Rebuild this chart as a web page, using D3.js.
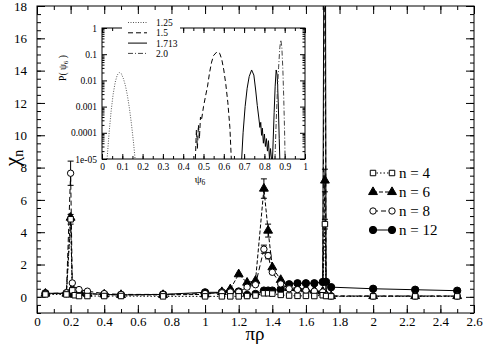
<!DOCTYPE html>
<html>
<head>
<meta charset="utf-8">
<script src="https://cdn.jsdelivr.net/npm/d3@7"></script>
<style>
  body { margin: 0; background: #fff; }
  svg { font-family: "Liberation Serif", "Times New Roman", serif; }
</style>
</head>
<body>
<svg width="485" height="344"></svg>
<script>
// main panel: chi_n vs pi*rho
var rho = [0.05, 0.175, 0.2, 0.21, 0.225, 0.25, 0.3, 0.4, 0.5, 0.75, 1.0, 1.1, 1.15, 1.2, 1.25, 1.3,
  1.35, 1.375, 1.4, 1.45, 1.5, 1.55, 1.6, 1.65, 1.7, 1.713, 1.72, 1.75, 2.0, 2.25, 2.5];
var chi4 = [0.15, 0.15, 4.8, 0.4, 0.1, 0.05, 0.05, 0.05, 0.05, 0.03, 0.03, 0.03, 0.03, 0.03, 0.05, 0.08,
  0.22, 0.22, 0.2, 0.12, 0.08, 0.06, 0.06, 0.05, 0.1, 4.5, 0.05, 0.03, 0.03, 0.03, 0.03];
var chi6 = [0.2, 0.2, 4.9, 0.5, 0.2, 0.25, 0.2, 0.15, 0.12, 0.12, 0.15, 0.3, 0.47, 1.4, 0.88, 1.0,
  6.7, 4.1, 1.83, 1.05, 0.55, 0.54, 0.47, 0.39, 0.33, 7.2, 0.12, 0.05, 0.05, 0.05, 0.05];
var chi8 = [0.2, 0.25, 7.65, 0.86, 0.4, 0.45, 0.35, 0.2, 0.15, 0.15, 0.2, 0.25, 0.3, 0.3, 0.6, 0.75,
  2.95, 2.55, 1.52, 0.8, 0.5, 0.45, 0.4, 0.35, 0.3, 25, 0.1, 0.05, 0.05, 0.05, 0.05];
var chi12 = [0.22, 0.22, 0.2, 0.2, 0.25, 0.25, 0.2, 0.15, 0.12, 0.15, 0.28, 0.28, 0.35, 0.33, 0.12, 0.18,
  0.39, 0.39, 0.39, 0.47, 0.78, 0.84, 0.84, 0.84, 0.92, 40, 0.93, 0.6, 0.5, 0.44, 0.38];
// error bars (0 = none drawn)
var err4 = [0, 0, 0.3, 0, 0, 0, 0, 0, 0, 0, 0, 0, 0, 0, 0, 0, 0, 0, 0, 0, 0, 0, 0, 0, 0, 0.3, 0, 0, 0, 0, 0];
var err6 = [0, 0, 0, 0, 0, 0, 0, 0, 0, 0, 0, 0, 0, 0, 0, 0, 0.6, 0.4, 0, 0, 0, 0, 0, 0, 0, 0.7, 0, 0, 0, 0, 0];
var err8 = [0, 0, 0.75, 0, 0, 0, 0, 0, 0, 0, 0, 0, 0, 0, 0, 0, 0.25, 0.2, 0, 0, 0, 0, 0, 0, 0, 0, 0, 0, 0, 0, 0];
var seriesNames = ["n = 4", "n = 6", "n = 8", "n = 12"];
var xTicks = [0, 0.2, 0.4, 0.6, 0.8, 1, 1.2, 1.4, 1.6, 1.8, 2, 2.2, 2.4, 2.6];
var yTicks = [0, 2, 4, 6, 8, 10, 12, 14, 16, 18];

// inset: P(psi6) for several pi*rho
var insetNames = ["1.25", "1.5", "1.713", "2.0"];
var psi125 = [0.025, 0.035, 0.045, 0.055, 0.065, 0.075, 0.085, 0.095, 0.105, 0.115, 0.125, 0.135, 0.145, 0.155, 0.163];
var p125 = [1e-5, 1e-4, 6.8e-4, 3e-3, 8.5e-3, 0.016, 0.02, 0.018, 0.012, 6.5e-3, 2.7e-3, 8.7e-4, 2.2e-4, 4.4e-5, 1e-5];
var psi15 = [0.46, 0.465, 0.47, 0.475, 0.48, 0.485, 0.49, 0.5, 0.51, 0.52, 0.53, 0.54, 0.55, 0.567, 0.58, 0.59, 0.6, 0.61, 0.62, 0.63, 0.637];
var p15 = [1e-5, 1.3e-4, 2.5e-5, 2e-4, 6e-5, 4e-4, 3e-4, 1e-3, 2.5e-3, 6e-3, 0.02, 0.05, 0.09, 0.125, 0.107, 0.063, 0.025, 7e-3, 1.4e-3, 1.6e-4, 1e-5];
var psi1713 = [0.688, 0.695, 0.705, 0.715, 0.725, 0.737, 0.748, 0.757, 0.765, 0.772, 0.778, 0.782, 0.786, 0.79, 0.795, 0.8,
  0.805, 0.81, 0.815, 0.82, 0.825, 0.83, 0.835, 0.84, 0.848, 0.853, 0.858, 0.863, 0.868, 0.873, 0.876];
var p1713 = [1e-5, 1e-4, 1e-3, 5e-3, 0.014, 0.025, 0.016, 4.3e-3, 1.1e-3, 4e-4, 1.6e-4, 2.5e-4, 8e-5, 1.5e-4, 4e-5, 9e-5,
  3e-5, 6e-5, 2e-5, 5e-5, 1e-5, 2.5e-5, 1e-5, 1e-5, 6e-4, 6e-3, 0.025, 0.016, 1.6e-3, 6e-5, 1e-5];
var psi20 = [0.852, 0.858, 0.864, 0.87, 0.876, 0.881, 0.886, 0.891, 0.895, 0.899, 0.902];
var p20 = [1e-5, 2.5e-4, 4e-3, 0.032, 0.18, 0.35, 0.18, 0.025, 2.5e-3, 1.6e-4, 1e-5];
var insetXTicks = [0, 0.1, 0.2, 0.3, 0.4, 0.5, 0.6, 0.7, 0.8, 0.9, 1];
var insetYTicks = [1e-5, 1e-4, 1e-3, 1e-2, 1e-1, 1];
var insetYLabels = ["1e-05", "0.0001", "0.001", "0.01", "0.1", "1"];

var svg = d3.select("svg");
var x = d3.scaleLinear().domain([0, 2.6]).range([37, 474]);
var y = d3.scaleLinear().domain([-1, 18]).range([313, 6]);

svg.append("clipPath").attr("id", "clipMain")
  .append("rect").attr("x", 37).attr("y", 6).attr("width", 437).attr("height", 307);

// axes with inward ticks on all four sides
function minorRange(a, b, s) { var r = []; for (var v = a; v <= b + 1e-9; v += s) r.push(+v.toFixed(4)); return r; }
var xMinor = minorRange(0, 2.6, 0.1);
var yMinor = minorRange(-1, 18, 0.5);

svg.append("g").attr("transform", "translate(0,313)")
  .call(d3.axisBottom(x).tickValues(xTicks).tickSize(-8).tickPadding(4).tickFormat(d3.format("~g")));
svg.append("g").attr("transform", "translate(0,313)")
  .call(d3.axisBottom(x).tickValues(xMinor).tickSize(-4).tickFormat(""));
svg.append("g").attr("transform", "translate(0,6)")
  .call(d3.axisTop(x).tickValues(xTicks).tickSize(-8).tickFormat(""));
svg.append("g").attr("transform", "translate(0,6)")
  .call(d3.axisTop(x).tickValues(xMinor).tickSize(-4).tickFormat(""));
svg.append("g").attr("transform", "translate(37,0)")
  .call(d3.axisLeft(y).tickValues(yTicks).tickSize(-8).tickPadding(10));
svg.append("g").attr("transform", "translate(37,0)")
  .call(d3.axisLeft(y).tickValues(yMinor).tickSize(-4).tickFormat(""));
svg.append("g").attr("transform", "translate(474,0)")
  .call(d3.axisRight(y).tickValues(yTicks).tickSize(-8).tickFormat(""));
svg.append("g").attr("transform", "translate(474,0)")
  .call(d3.axisRight(y).tickValues(yMinor).tickSize(-4).tickFormat(""));
svg.selectAll(".domain").remove();
svg.selectAll(".tick text").attr("font-size", 13).attr("font-family", "Liberation Serif").attr("fill", "#000");
svg.append("rect").attr("x", 37).attr("y", 6).attr("width", 437).attr("height", 307)
  .attr("fill", "none").attr("stroke", "#000");

svg.append("text").attr("x", 255).attr("y", 340).attr("text-anchor", "middle")
  .attr("font-size", 19).attr("fill", "#000").text("πρ");
svg.append("text").attr("transform", "translate(19,158) rotate(-90)").attr("text-anchor", "middle")
  .attr("font-size", 21).attr("fill", "#000").html("χ<tspan font-size='14' dy='4'>n</tspan>");

// series
var series = [
  { vals: chi4, err: err4, sym: d3.symbolSquare, size: 30, fill: "#fff", dash: "1.5,2" },
  { vals: chi6, err: err6, sym: d3.symbolTriangle, size: 34, fill: "#000", dash: "4,2" },
  { vals: chi8, err: err8, sym: d3.symbolCircle, size: 32, fill: "#fff", dash: "5,3" },
  { vals: chi12, err: null, sym: d3.symbolCircle, size: 42, fill: "#000", dash: null }
];
var plot = svg.append("g").attr("clip-path", "url(#clipMain)");
var line = d3.line().x(function (d) { return x(d[0]); }).y(function (d) { return y(d[1]); });

series.forEach(function (s) {
  var pts = rho.map(function (r, i) { return [r, s.vals[i]]; });
  plot.append("path").datum(pts).attr("d", line)
    .attr("fill", "none").attr("stroke", "#000").attr("stroke-width", 1)
    .attr("stroke-dasharray", s.dash);
});
// markers: filled ones first so the open ones stay visible
[3, 1, 2, 0].forEach(function (k) {
  var s = series[k];
  var g = plot.append("g");
  rho.forEach(function (r, i) {
    var e = s.err ? s.err[i] : 0;
    if (e > 0) {
      var cx = x(r);
      g.append("line").attr("x1", cx).attr("x2", cx).attr("y1", y(s.vals[i] - e)).attr("y2", y(s.vals[i] + e)).attr("stroke", "#000");
      [s.vals[i] - e, s.vals[i] + e].forEach(function (v) {
        g.append("line").attr("x1", cx - 3).attr("x2", cx + 3).attr("y1", y(v)).attr("y2", y(v)).attr("stroke", "#000");
      });
    }
  });
  g.selectAll("path").data(rho).enter().append("path")
    .attr("transform", function (r, i) { return "translate(" + x(r) + "," + y(s.vals[i]) + ")"; })
    .attr("d", d3.symbol().type(s.sym).size(s.size))
    .attr("fill", s.fill).attr("stroke", "#000").attr("stroke-width", 1);
});

// main legend
var leg = svg.append("g");
seriesNames.forEach(function (name, i) {
  var s = series[i], ly = 173 + i * 19;
  leg.append("line").attr("x1", 373).attr("x2", 392).attr("y1", ly).attr("y2", ly)
    .attr("stroke", "#000").attr("stroke-dasharray", s.dash);
  [373, 392].forEach(function (lx) {
    leg.append("path").attr("transform", "translate(" + lx + "," + ly + ")")
      .attr("d", d3.symbol().type(s.sym).size(s.size))
      .attr("fill", s.fill).attr("stroke", "#000");
  });
  leg.append("text").attr("x", 399).attr("y", ly + 5).attr("font-size", 15).attr("fill", "#000").text(name);
});

// inset
var ix = d3.scaleLinear().domain([0, 1]).range([102, 305]);
var iy = d3.scaleLog().domain([1e-5, 1]).range([159, 28]);
var inset = svg.append("g");
inset.append("rect").attr("x", 102).attr("y", 28).attr("width", 203).attr("height", 131).attr("fill", "#fff");
svg.append("clipPath").attr("id", "clipInset")
  .append("rect").attr("x", 102).attr("y", 28).attr("width", 203).attr("height", 131);

var ixMinor = minorRange(0, 1, 0.05);
var iyMinor = [];
insetYTicks.slice(0, 5).forEach(function (d) { for (var k = 2; k <= 9; k++) iyMinor.push(d * k); });

inset.append("g").attr("transform", "translate(0,159)")
  .call(d3.axisBottom(ix).tickValues(insetXTicks).tickSize(-5).tickPadding(4).tickFormat(d3.format("~g")));
inset.append("g").attr("transform", "translate(0,159)")
  .call(d3.axisBottom(ix).tickValues(ixMinor).tickSize(-3).tickFormat(""));
inset.append("g").attr("transform", "translate(0,28)")
  .call(d3.axisTop(ix).tickValues(insetXTicks).tickSize(-5).tickFormat(""));
inset.append("g").attr("transform", "translate(0,28)")
  .call(d3.axisTop(ix).tickValues(ixMinor).tickSize(-3).tickFormat(""));
inset.append("g").attr("transform", "translate(102,0)")
  .call(d3.axisLeft(iy).tickValues(insetYTicks).tickSize(-5).tickPadding(5)
    .tickFormat(function (d, i) { return insetYLabels[i]; }));
inset.append("g").attr("transform", "translate(102,0)")
  .call(d3.axisLeft(iy).tickValues(iyMinor).tickSize(-2.5).tickFormat(""));
inset.append("g").attr("transform", "translate(305,0)")
  .call(d3.axisRight(iy).tickValues(insetYTicks).tickSize(-5).tickFormat(""));
inset.append("g").attr("transform", "translate(305,0)")
  .call(d3.axisRight(iy).tickValues(iyMinor).tickSize(-2.5).tickFormat(""));
inset.selectAll(".domain").remove();
inset.selectAll(".tick text").attr("font-size", 9.5).attr("font-family", "Liberation Serif").attr("fill", "#000");

var insetSeries = [
  { psi: psi125, p: p125, dash: "1,1.5", color: "#555" },
  { psi: psi15, p: p15, dash: "5,3", color: "#000" },
  { psi: psi1713, p: p1713, dash: null, color: "#000" },
  { psi: psi20, p: p20, dash: "5,2,1,2", color: "#444" }
];
var iline = d3.line().x(function (d) { return ix(d[0]); }).y(function (d) { return iy(d[1]); });
var icurves = inset.append("g").attr("clip-path", "url(#clipInset)");
insetSeries.forEach(function (s) {
  icurves.append("path").datum(s.psi.map(function (v, i) { return [v, s.p[i]]; }))
    .attr("d", iline).attr("fill", "none").attr("stroke", s.color).attr("stroke-width", 1)
    .attr("stroke-dasharray", s.dash);
});

inset.append("rect").attr("x", 102).attr("y", 28).attr("width", 203).attr("height", 131)
  .attr("fill", "none").attr("stroke", "#000");

// inset legend (white box sits over the frame top)
var ileg = inset.append("g");
ileg.append("rect").attr("x", 122).attr("y", 16).attr("width", 58).attr("height", 44).attr("fill", "#fff");
insetNames.forEach(function (name, i) {
  var s = insetSeries[i], ly = 22.5 + i * 10.3;
  ileg.append("line").attr("x1", 128).attr("x2", 147).attr("y1", ly).attr("y2", ly)
    .attr("stroke", s.color).attr("stroke-dasharray", s.dash);
  ileg.append("text").attr("x", 156).attr("y", ly + 3.5).attr("font-size", 9.5).attr("fill", "#000").text(name);
});

inset.append("text").attr("x", 200).attr("y", 183).attr("text-anchor", "middle")
  .attr("font-size", 11).attr("fill", "#000").html("ψ<tspan font-size='7.5' dy='2'>6</tspan>");
inset.append("text").attr("transform", "translate(66,68) rotate(-90)").attr("text-anchor", "middle")
  .attr("font-size", 9.5).attr("fill", "#000").html("P( ψ<tspan font-size='7' dy='2'>6</tspan><tspan dy='-2'> )</tspan>");
</script>
</body>
</html>
